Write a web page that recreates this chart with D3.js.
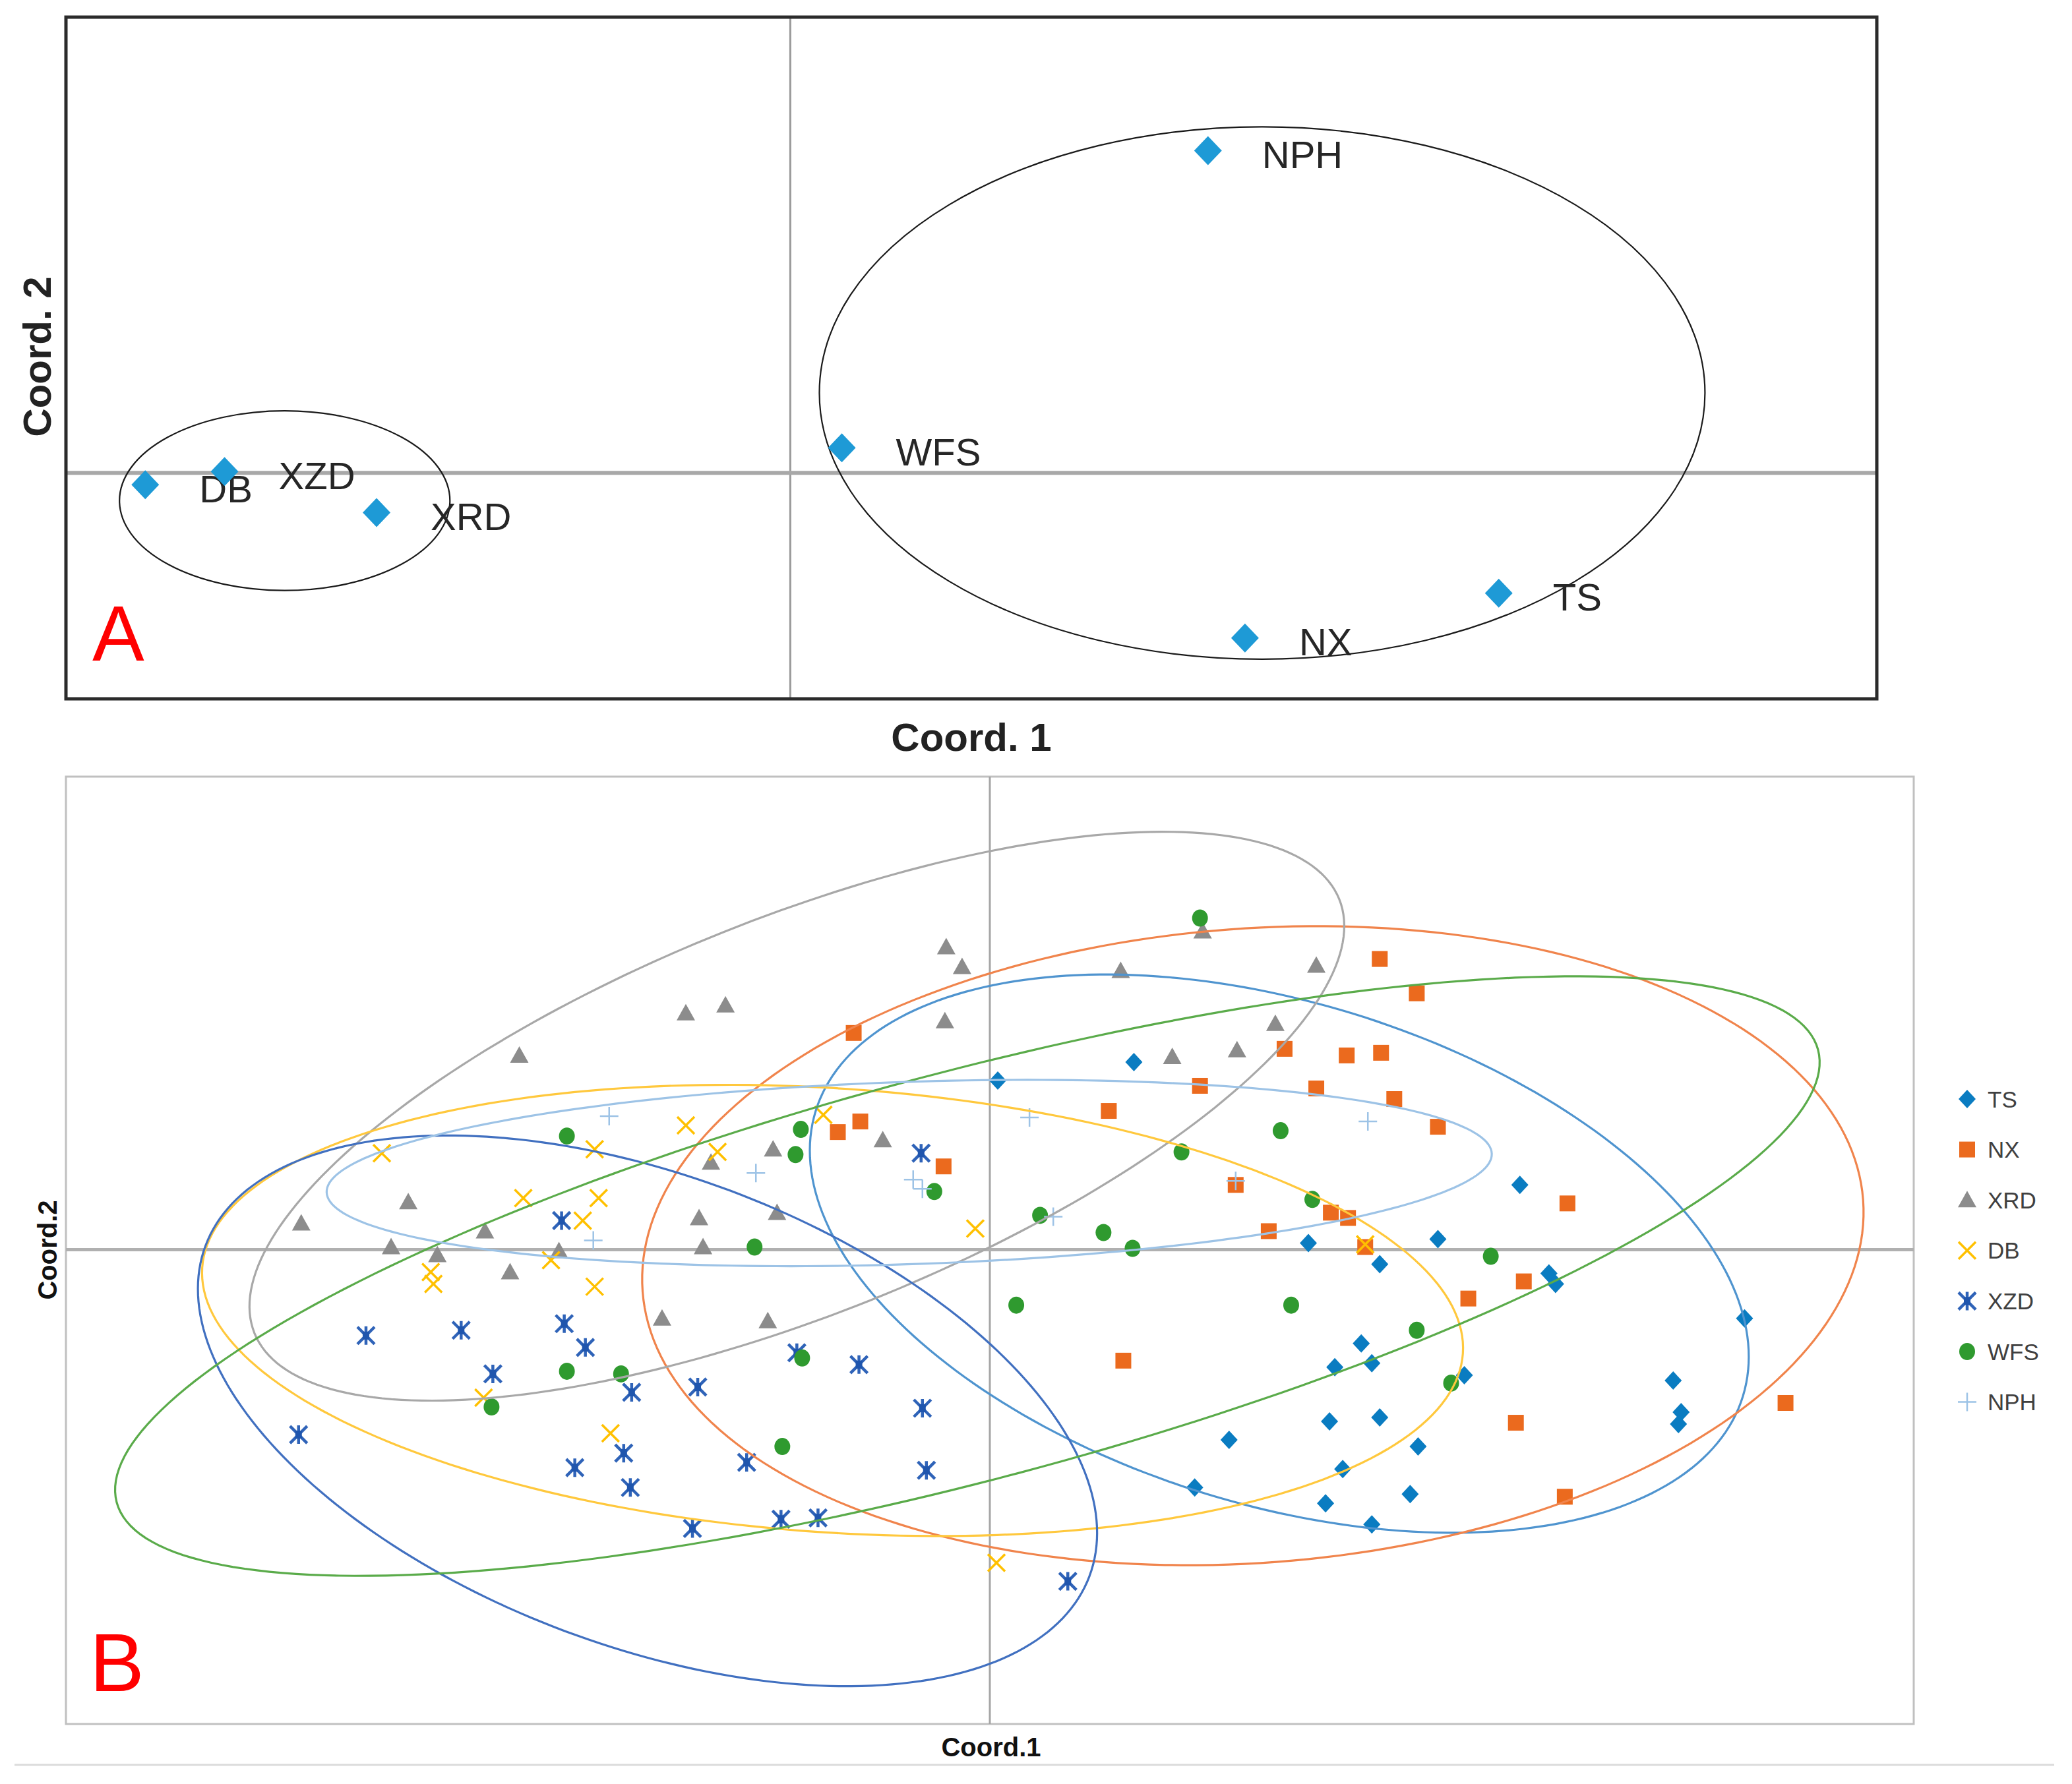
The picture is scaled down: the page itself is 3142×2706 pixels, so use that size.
<html>
<head>
  <meta charset="UTF-8">
  <title>PCoA plot</title>
  <script src="https://d3js.org/d3.v7.min.js"></script>
  <style>
    body { margin: 0; background: #fff; }
    text { font-family: "Liberation Sans", Arial, sans-serif; }
  </style>
</head>
<body>
  <svg id="chart" width="3142" height="2706"></svg>
  <script>
    /* ---------- data ---------- */
    // panel A: population centroids
    const popNames = ["DB", "XZD", "XRD", "WFS", "NPH", "TS", "NX"];
    const popX = [-4.88, -4.28, -3.13, 0.39, 3.16, 5.36, 3.44];
    const popY = [-0.09, 0.01, -0.30, 0.19, 2.44, -0.91, -1.25];
    // groups circled in panel A: [cx, cy, rx, ry]
    const groupsA = [[-3.825, -0.21, 1.25, 0.68], [3.57, 0.605, 3.35, 2.015]];

    // panel B: individuals per population, [coord1, coord2]
    const seriesNames = ["TS", "NX", "XRD", "DB", "XZD", "WFS", "NPH"];
    const tsPts = [[0.06, 1.28], [1.09, 1.42], [4.01, 0.49], [2.41, 0.05], [3.39, 0.08], [2.95, -0.11],
      [4.23, -0.18], [4.28, -0.26], [5.71, -0.52], [2.81, -0.71], [2.61, -0.89], [2.89, -0.86],
      [3.59, -0.95], [5.17, -0.99], [5.23, -1.23], [5.21, -1.32], [2.57, -1.30], [2.95, -1.27],
      [3.24, -1.49], [2.67, -1.66], [1.81, -1.44], [1.55, -1.80], [2.54, -1.92], [3.18, -1.85], [2.89, -2.08]];
    const nxPts = [[-1.03, 1.64], [-1.15, 0.89], [-0.98, 0.97], [-0.35, 0.63], [0.90, 1.05], [1.59, 1.24],
      [2.23, 1.52], [2.70, 1.47], [2.96, 1.49], [2.95, 2.20], [3.23, 1.94], [2.47, 1.22], [3.06, 1.14],
      [3.39, 0.93], [4.37, 0.35], [1.86, 0.49], [2.11, 0.14], [2.58, 0.28], [2.71, 0.24], [2.84, 0.02],
      [4.04, -0.24], [3.62, -0.37], [1.01, -0.84], [3.98, -1.31], [6.02, -1.16], [4.35, -1.87]];
    const xrdPts = [[-3.56, 1.47], [-2.30, 1.79], [-2.00, 1.85], [-4.40, 0.36], [-5.21, 0.20], [-3.82, 0.14],
      [-4.53, 0.02], [-4.18, -0.04], [-3.26, -0.01], [-2.11, 0.66], [-2.20, 0.24], [-2.17, 0.02],
      [-3.63, -0.17], [-0.33, 2.29], [-0.21, 2.14], [-0.34, 1.73], [0.99, 2.11], [1.61, 2.41],
      [2.47, 2.15], [2.16, 1.71], [1.38, 1.46], [1.87, 1.51], [-0.81, 0.83], [-1.64, 0.76],
      [-1.61, 0.28], [-2.48, -0.52], [-1.68, -0.54]];
    const dbPts = [[-4.60, 0.73], [-2.30, 0.94], [-2.99, 0.76], [-3.53, 0.39], [-2.96, 0.39], [-3.08, 0.22],
      [-2.06, 0.74], [-3.32, -0.08], [-4.23, -0.17], [-4.21, -0.26], [-2.99, -0.28], [-3.83, -1.12],
      [-2.87, -1.39], [-1.26, 1.02], [-0.11, 0.16], [0.05, -2.37], [2.84, 0.04]];
    const xzdPts = [[-4.72, -0.65], [-4.00, -0.61], [-3.22, -0.56], [-3.06, -0.74], [-3.76, -0.94],
      [-2.71, -1.08], [-2.21, -1.04], [-5.23, -1.40], [-2.77, -1.54], [-3.14, -1.65], [-2.72, -1.80],
      [-2.25, -2.11], [-3.24, 0.22], [-1.46, -0.78], [-0.99, -0.87], [-0.51, -1.20], [-1.84, -1.61],
      [-0.48, -1.67], [-1.58, -2.04], [-1.30, -2.03], [0.59, -2.51], [-0.52, 0.73]];
    const wfsPts = [[-3.20, 0.86], [1.59, 2.51], [-1.43, 0.91], [-1.47, 0.72], [-0.42, 0.44], [2.20, 0.90],
      [1.45, 0.74], [2.44, 0.38], [0.38, 0.26], [0.86, 0.13], [1.08, 0.01], [-1.78, 0.02], [-3.20, -0.92],
      [-2.79, -0.94], [-3.77, -1.19], [0.20, -0.42], [2.28, -0.42], [-1.42, -0.82], [-1.57, -1.49],
      [3.79, -0.05], [3.23, -0.61], [3.49, -1.01]];
    const nphPts = [[-2.88, 1.01], [-3.00, 0.07], [-1.77, 0.58], [-0.58, 0.53], [-0.51, 0.46], [0.30, 1.00],
      [0.48, 0.25], [1.86, 0.52], [2.86, 0.97]];

    // 95% ellipses in panel B: [cx, cy, semi-major, semi-minor, angle deg]
    const ellipseTS = [2.19, -0.03, 3.67, 1.90, -17.1];
    const ellipseNX = [1.99, 0.03, 4.63, 2.40, 4.3];
    const ellipseXRD = [-1.46, 1.01, 4.42, 1.50, 21.8];
    const ellipseDB = [-1.19, -0.46, 4.78, 1.68, -3.9];
    const ellipseXZD = [-2.59, -1.22, 3.57, 1.78, -20.5];
    const ellipseWFS = [-0.17, -0.20, 6.66, 1.54, 14.9];
    const ellipseNPH = [-0.61, 0.58, 4.41, 0.69, 1.9];

    const seriesPts = [tsPts, nxPts, xrdPts, dbPts, xzdPts, wfsPts, nphPts];
    const seriesEllipses = [ellipseTS, ellipseNX, ellipseXRD, ellipseDB, ellipseXZD, ellipseWFS, ellipseNPH];

    /* ---------- styles ---------- */
    const markerShape = ["diamond", "square", "triangle", "cross", "star", "circle", "plus"];
    const markerColor = ["#0a7cc1", "#eb6a1e", "#8c8c8c", "#ffc000", "#2f63b8", "#2f9a2f", "#9dc3e6"];
    const ellipseColor = ["#4f94cf", "#f0844c", "#a8a8a8", "#ffc83d", "#4170c0", "#5aab4a", "#9dc3e6"];

    const svg = d3.select("#chart");

    function drawMarker(g, shape, color, px, py) {
      if (shape === "diamond") {
        g.append("path").attr("d", `M${px},${py - 14}L${px + 13},${py}L${px},${py + 14}L${px - 13},${py}Z`).attr("fill", color);
      } else if (shape === "square") {
        g.append("rect").attr("x", px - 12).attr("y", py - 12).attr("width", 24).attr("height", 24).attr("fill", color);
      } else if (shape === "triangle") {
        g.append("path").attr("d", `M${px},${py - 14}L${px + 14},${py + 11}L${px - 14},${py + 11}Z`).attr("fill", color);
      } else if (shape === "circle") {
        g.append("ellipse").attr("cx", px).attr("cy", py).attr("rx", 12).attr("ry", 13).attr("fill", color);
      } else if (shape === "cross") {
        g.append("path").attr("d", `M${px - 13},${py - 13}L${px + 13},${py + 13}M${px + 13},${py - 13}L${px - 13},${py + 13}`)
          .attr("stroke", color).attr("stroke-width", 3.5).attr("fill", "none");
      } else if (shape === "star") {
        g.append("path").attr("d", `M${px - 13},${py - 13}L${px + 13},${py + 13}M${px + 13},${py - 13}L${px - 13},${py + 13}` +
          `M${px},${py - 14}L${px},${py + 14}`)
          .attr("stroke", color).attr("stroke-width", 4.5).attr("fill", "none");
        g.append("rect").attr("x", px - 5).attr("y", py - 6).attr("width", 10).attr("height", 12).attr("fill", "#1f55ad");
      } else if (shape === "plus") {
        g.append("path").attr("d", `M${px - 14},${py}L${px + 14},${py}M${px},${py - 14}L${px},${py + 14}`)
          .attr("stroke", color).attr("stroke-width", 2.5).attr("fill", "none");
      }
    }

    function ellipsePoints(e, n) {
      const [cx, cy, a, b, ang] = e;
      const phi = ang * Math.PI / 180;
      return d3.range(n).map(i => {
        const t = 2 * Math.PI * i / n;
        const u = a * Math.cos(t), v = b * Math.sin(t);
        return [cx + u * Math.cos(phi) - v * Math.sin(phi), cy + u * Math.sin(phi) + v * Math.cos(phi)];
      });
    }

    /* ---------- panel A ---------- */
    const ax = d3.scaleLinear().domain([-5.48, 8.22]).range([100, 2846]);
    const ay = d3.scaleLinear().domain([-1.71, 3.45]).range([1060, 26]);
    const gA = svg.append("g");

    gA.append("line").attr("x1", ax(0)).attr("x2", ax(0)).attr("y1", ay(3.45)).attr("y2", ay(-1.71))
      .attr("stroke", "#9a9a9a").attr("stroke-width", 3);
    gA.append("line").attr("x1", ax(-5.48)).attr("x2", ax(8.22)).attr("y1", ay(0)).attr("y2", ay(0))
      .attr("stroke", "#a8a8a8").attr("stroke-width", 6);

    groupsA.forEach(c => {
      gA.append("ellipse")
        .attr("cx", ax(c[0])).attr("cy", ay(c[1]))
        .attr("rx", ax(c[2]) - ax(0)).attr("ry", ay(0) - ay(c[3]))
        .attr("fill", "none").attr("stroke", "#1a1a1a").attr("stroke-width", 2.2);
    });

    popNames.forEach((name, i) => {
      const px = ax(popX[i]), py = ay(popY[i]);
      gA.append("path").attr("d", `M${px},${py - 22}L${px + 21},${py}L${px},${py + 22}L${px - 21},${py}Z`)
        .attr("fill", "#1e9ad6");
      gA.append("text").attr("x", px + 82).attr("y", py + 6)
        .attr("dominant-baseline", "central")
        .attr("font-size", 58).attr("fill", "#262626").text(name);
    });

    gA.append("rect").attr("x", 100).attr("y", 26).attr("width", 2746).attr("height", 1034)
      .attr("fill", "none").attr("stroke", "#2b2b2b").attr("stroke-width", 5);

    gA.append("text").attr("x", 140).attr("y", 1002).attr("font-size", 118).attr("fill", "#ff0000").text("A");
    gA.append("text").attr("x", 1473).attr("y", 1118).attr("text-anchor", "middle").attr("dominant-baseline", "central")
      .attr("font-size", 60).attr("font-weight", "bold").attr("fill", "#222").text("Coord. 1");
    gA.append("text").attr("transform", "translate(56,541) rotate(-90)").attr("text-anchor", "middle")
      .attr("dominant-baseline", "central").attr("font-size", 60).attr("font-weight", "bold").attr("fill", "#222")
      .text("Coord. 2");

    /* ---------- panel B ---------- */
    const bx = d3.scaleLinear().domain([-6.99, 6.99]).range([100, 2902]);
    const by = d3.scaleLinear().domain([-3.59, 3.58]).range([2615, 1178]);
    const gB = svg.append("g");

    gB.append("rect").attr("x", 100).attr("y", 1178).attr("width", 2802).attr("height", 1437)
      .attr("fill", "none").attr("stroke", "#c0c0c0").attr("stroke-width", 3);
    gB.append("line").attr("x1", bx(0)).attr("x2", bx(0)).attr("y1", by(3.58)).attr("y2", by(-3.59))
      .attr("stroke", "#a6a6a6").attr("stroke-width", 3);
    gB.append("line").attr("x1", bx(-6.99)).attr("x2", bx(6.99)).attr("y1", by(0)).attr("y2", by(0))
      .attr("stroke", "#b0b0b0").attr("stroke-width", 5);

    seriesPts.forEach((pts, i) => {
      pts.forEach(d => drawMarker(gB, markerShape[i], markerColor[i], bx(d[0]), by(d[1])));
    });

    const ellipseLine = d3.line().x(d => bx(d[0])).y(d => by(d[1])).curve(d3.curveLinearClosed);
    seriesEllipses.forEach((e, i) => {
      gB.append("path").attr("d", ellipseLine(ellipsePoints(e, 240)))
        .attr("fill", "none").attr("stroke", ellipseColor[i]).attr("stroke-width", 3.2);
    });

    gB.append("text").attr("x", 136).attr("y", 2565).attr("font-size", 124).attr("fill", "#ff0000").text("B");
    gB.append("text").attr("x", 1503).attr("y", 2650).attr("text-anchor", "middle").attr("dominant-baseline", "central")
      .attr("font-size", 40).attr("font-weight", "bold").attr("fill", "#111").text("Coord.1");
    gB.append("text").attr("transform", "translate(72,1896) rotate(-90)").attr("text-anchor", "middle")
      .attr("dominant-baseline", "central").attr("font-size", 40).attr("font-weight", "bold").attr("fill", "#111")
      .text("Coord.2");

    // legend
    const legend = svg.append("g");
    seriesNames.forEach((name, i) => {
      const ly = 1667 + i * 76.6;
      drawMarker(legend, markerShape[i], markerColor[i], 2983, ly);
      legend.append("text").attr("x", 3014).attr("y", ly).attr("dominant-baseline", "central")
        .attr("font-size", 35).attr("fill", "#404040").text(name);
    });

    // faint rule under the figure
    svg.append("line").attr("x1", 22).attr("x2", 3115).attr("y1", 2677).attr("y2", 2677)
      .attr("stroke", "#dcdcdc").attr("stroke-width", 3);
  </script>
</body>
</html>
